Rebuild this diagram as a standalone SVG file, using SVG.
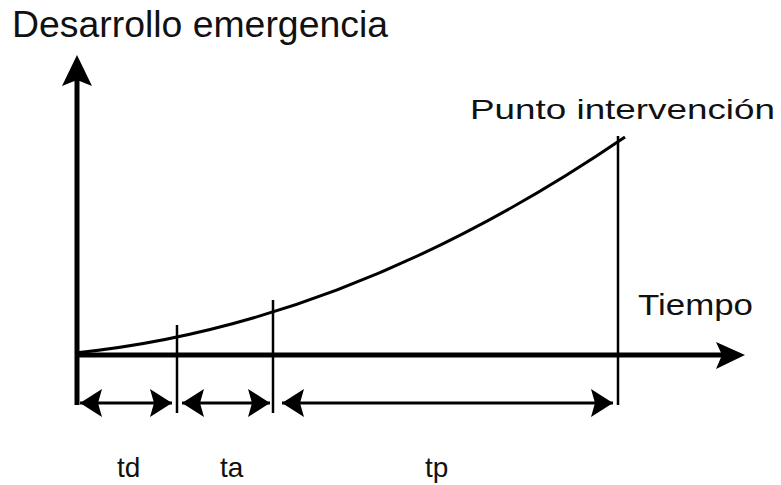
<svg xmlns="http://www.w3.org/2000/svg" width="781" height="485" viewBox="0 0 781 485">
  <defs>
    <style>
      .lbl { font-family: "Liberation Sans", Arial, sans-serif; fill: #111; }
      .axis { stroke: #000; stroke-width: 5; fill: none; }
      .thin { stroke: #000; stroke-width: 2.5; fill: none; }
      .dim { stroke: #000; stroke-width: 3; fill: none; marker-start: url(#dimhead); marker-end: url(#dimhead); }
    </style>
    <marker id="dimhead" viewBox="0 0 22 28" refX="22" refY="14" markerWidth="22" markerHeight="28" markerUnits="userSpaceOnUse" orient="auto-start-reverse">
      <path d="M0,0 L22,14 L0,28 L4,14 Z" fill="#000"/>
    </marker>
  </defs>
  <rect width="781" height="485" fill="#fff"/>

  <g id="title">
    <text class="lbl" x="12" y="37" font-size="36" textLength="376" lengthAdjust="spacingAndGlyphs">Desarrollo emergencia</text>
  </g>

  <g id="axes">
    <line class="axis" x1="77" y1="405" x2="77" y2="80"/>
    <polygon points="77,55 92,86 77,80 62,86" fill="#000"/>
    <line class="axis" x1="75" y1="355" x2="722" y2="355"/>
    <polygon points="745,355 716,342 722,355 716,369" fill="#000"/>
    <text class="lbl" x="638" y="315" font-size="29" textLength="115" lengthAdjust="spacingAndGlyphs">Tiempo</text>
  </g>

  <g id="curve">
    <path d="M75,353 Q349.5,325 625,137" stroke="#000" stroke-width="3" fill="none"/>
    <text class="lbl" x="470" y="119" font-size="28" textLength="305" lengthAdjust="spacingAndGlyphs">Punto intervención</text>
  </g>

  <g id="markers">
    <line class="thin" x1="177" y1="325" x2="177" y2="413"/>
    <line class="thin" x1="273" y1="300" x2="273" y2="413"/>
    <line class="thin" x1="618" y1="136" x2="618" y2="405"/>
  </g>

  <g id="connectors">
    <line class="dim" x1="80" y1="403" x2="172" y2="403"/>
    <line class="dim" x1="182" y1="403" x2="270" y2="403"/>
    <line class="dim" x1="282" y1="403" x2="613" y2="403"/>
  </g>

  <g id="td"><text class="lbl" x="117" y="477" font-size="28">td</text></g>
  <g id="ta"><text class="lbl" x="220" y="477" font-size="28">ta</text></g>
  <g id="tp"><text class="lbl" x="425" y="477" font-size="28">tp</text></g>
</svg>
